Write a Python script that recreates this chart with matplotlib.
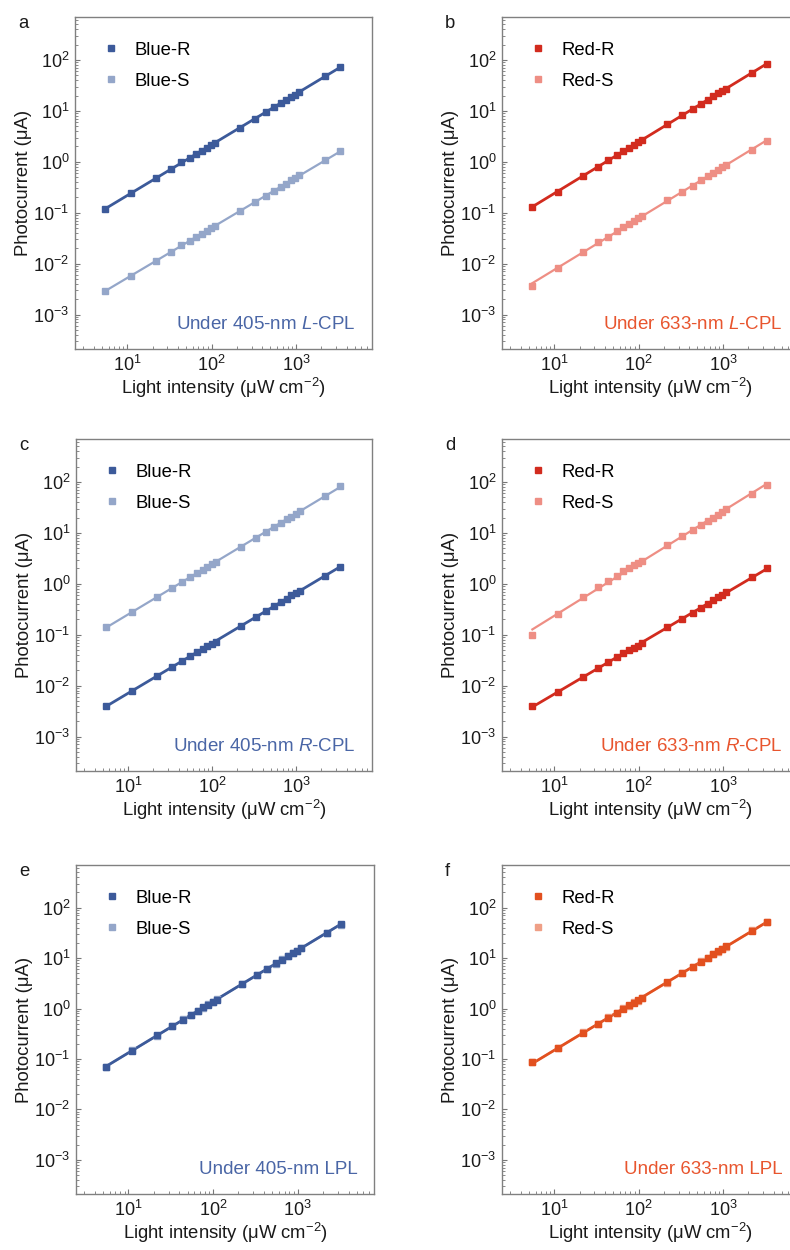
import numpy as np
import matplotlib
matplotlib.use("Agg")
import matplotlib.pyplot as plt
from matplotlib.lines import Line2D
from matplotlib.ticker import LogLocator, NullFormatter

plt.rcParams['font.family'] = ['Liberation Sans', 'DejaVu Sans']
plt.rcParams['mathtext.fontset'] = 'custom'
plt.rcParams['mathtext.rm'] = 'Liberation Sans'
plt.rcParams['mathtext.it'] = 'Liberation Sans:italic'
plt.rcParams['mathtext.default'] = 'regular'

# light intensity (uW cm-2)
intensity = [5.5, 11, 22, 33, 44, 55, 66, 77, 88, 99, 110,
             220, 330, 440, 550, 660, 770, 880, 990, 1100, 2200, 3300]
x_ticks = [1e1, 1e2, 1e3]
y_ticks = [1e-3, 1e-2, 1e-1, 1e0, 1e1, 1e2]

# photocurrent (uA)
a_blue_r = [0.12, 0.24, 0.49, 0.72, 0.97, 1.2, 1.45, 1.65, 1.9, 2.1, 2.35,
            4.7, 7.0, 9.5, 11.8, 14, 16.3, 18.5, 21, 24, 48, 74]
a_blue_s = [0.0029, 0.0058, 0.0115, 0.017, 0.023, 0.028, 0.034, 0.039, 0.044, 0.049, 0.054,
            0.108, 0.163, 0.215, 0.265, 0.32, 0.37, 0.43, 0.48, 0.54, 1.08, 1.6]
b_red_r = [0.13, 0.26, 0.53, 0.8, 1.08, 1.35, 1.6, 1.9, 2.15, 2.4, 2.7,
           5.5, 8.3, 11, 13.8, 16.5, 19.3, 22, 24.8, 27.5, 55, 84]
b_red_s = [0.0037, 0.0083, 0.017, 0.026, 0.034, 0.043, 0.052, 0.061, 0.069, 0.078, 0.087,
           0.175, 0.26, 0.34, 0.43, 0.52, 0.6, 0.69, 0.78, 0.86, 1.7, 2.6]
c_blue_r = [0.004, 0.0079, 0.0155, 0.023, 0.030, 0.038, 0.045, 0.052, 0.059, 0.066, 0.073,
            0.148, 0.22, 0.295, 0.37, 0.44, 0.51, 0.59, 0.66, 0.73, 1.45, 2.1]
c_blue_s = [0.14, 0.28, 0.55, 0.82, 1.1, 1.35, 1.6, 1.9, 2.15, 2.4, 2.65,
            5.3, 8.0, 10.5, 13.2, 15.8, 18.5, 21, 23.8, 26.5, 53, 82]
d_red_r = [0.004, 0.0075, 0.015, 0.022, 0.029, 0.036, 0.043, 0.049, 0.055, 0.061, 0.068,
           0.14, 0.205, 0.27, 0.34, 0.41, 0.47, 0.54, 0.61, 0.68, 1.35, 2.0]
d_red_s = [0.10, 0.25, 0.55, 0.85, 1.15, 1.45, 1.75, 2.0, 2.3, 2.55, 2.85,
           5.8, 8.7, 11.5, 14.5, 17.5, 20, 23, 26, 29, 57, 87]
e_blue_r = [0.07, 0.145, 0.3, 0.45, 0.6, 0.75, 0.9, 1.05, 1.2, 1.35, 1.5,
            3.1, 4.6, 6.2, 7.9, 9.3, 11, 12.5, 14, 15.8, 31, 47]
e_blue_s = [0.069, 0.148, 0.29, 0.44, 0.61, 0.74, 0.91, 1.04, 1.21, 1.33, 1.52,
            3.05, 4.65, 6.1, 7.8, 9.4, 10.9, 12.6, 13.8, 16, 31.5, 46]
f_red_r = [0.085, 0.165, 0.33, 0.5, 0.66, 0.82, 1.0, 1.15, 1.3, 1.45, 1.62,
           3.3, 5.0, 6.8, 8.5, 10.2, 11.8, 13.5, 15.2, 17, 35, 53]
f_red_s = [0.086, 0.162, 0.335, 0.49, 0.67, 0.81, 1.02, 1.14, 1.32, 1.44, 1.64,
           3.25, 5.05, 6.7, 8.6, 10.1, 11.9, 13.4, 15.3, 16.8, 35.5, 52]

blue_r = '#3c5a9a'
blue_s = '#94a6c9'
red_r = '#d22b1e'
red_s = '#ee8e84'
orange_r = '#e2501f'
orange_s = '#ef9f86'
blue_txt = '#4a66a6'
red_txt = '#e8552e'

panels = [
    ('a', a_blue_r, a_blue_s, 'Blue', blue_r, blue_s, 'Under 405-nm $\\it{L}$-CPL', blue_txt, False),
    ('b', b_red_r, b_red_s, 'Red', red_r, red_s, 'Under 633-nm $\\it{L}$-CPL', red_txt, False),
    ('c', c_blue_r, c_blue_s, 'Blue', blue_r, blue_s, 'Under 405-nm $\\it{R}$-CPL', blue_txt, True),
    ('d', d_red_r, d_red_s, 'Red', red_r, red_s, 'Under 633-nm $\\it{R}$-CPL', red_txt, True),
    ('e', e_blue_r, e_blue_s, 'Blue', blue_r, blue_s, 'Under 405-nm LPL', blue_txt, True),
    ('f', f_red_r, f_red_s, 'Red', orange_r, orange_s, 'Under 633-nm LPL', red_txt, True),
]

W, H = 790, 1250
# axes boxes in pixels: left, top, right, bottom
boxes = [(75, 17, 372, 349), (502, 17, 799, 349),
         (76, 439, 372, 771), (502, 439, 799, 771),
         (76, 865, 374, 1194), (502, 865, 799, 1194)]

fig = plt.figure(figsize=(W / 100, H / 100), dpi=100)
x = np.array(intensity)

for (letter, yr, ys, name, cr, cs, note, tc, s_first), (l, t, r, b) in zip(panels, boxes):
    ax = fig.add_axes([l / W, 1 - b / H, (r - l) / W, (b - t) / H])
    ax.set_xscale('log')
    ax.set_yscale('log')

    order = [(ys, cs, 1.6), (yr, cr, 2.0)]
    if not s_first:
        order = [(yr, cr, 2.0), (ys, cs, 1.6)]
    for yv, col, lw in order:
        yv = np.array(yv)
        ax.plot(x, yv, 's', color=col, ms=4.2, zorder=3)
        k, c0 = np.polyfit(np.log10(x), np.log10(yv), 1)
        xf = np.array([x[0], x[-1]])
        ax.plot(xf, 10 ** (c0 + k * np.log10(xf)), '-', color=col, lw=lw, zorder=2)

    ax.set_xlim(2.4, 8000)
    ax.set_ylim(2.1e-4, 700)
    ax.set_xticks(x_ticks)
    ax.set_yticks(y_ticks)
    ax.xaxis.set_minor_locator(LogLocator(base=10, subs=np.arange(2, 10), numticks=20))
    ax.yaxis.set_minor_locator(LogLocator(base=10, subs=np.arange(2, 10), numticks=20))
    ax.xaxis.set_minor_formatter(NullFormatter())
    ax.yaxis.set_minor_formatter(NullFormatter())
    ax.tick_params(which='both', direction='in', color='#777777', labelsize=13,
                   labelcolor='#1a1a1a', top=False, right=False)
    ax.tick_params(which='major', length=3.5, width=0.8, pad=4)
    ax.tick_params(which='minor', length=2, width=0.6)
    for sp in ax.spines.values():
        sp.set_color('#808080')
        sp.set_linewidth(1.0)

    ax.set_xlabel('Light intensity (\u03bcW cm$^{-2}$)', fontsize=13.3, color='#1a1a1a', labelpad=1)
    ax.set_ylabel('Photocurrent (\u03bcA)', fontsize=13.3, color='#1a1a1a', labelpad=1)

    handles = [Line2D([], [], ls='none', marker='s', ms=4.2, color=cr),
               Line2D([], [], ls='none', marker='s', ms=4.2, color=cs)]
    ax.legend(handles, [name + '-R', name + '-S'], loc='upper left', frameon=False,
              fontsize=13.3, handlelength=0.8, handletextpad=0.9, labelspacing=0.75,
              bbox_to_anchor=(0.04, 0.975))

    ax.text(0.946, 0.075, note, transform=ax.transAxes, ha='right', va='center',
            fontsize=13.5, color=tc)
    fig.text((l - 57) / W, 1 - (t + 11) / H, letter, fontsize=13.3, ha='left', va='baseline',
             color='#1a1a1a')

fig.savefig('out.png', dpi=100)
